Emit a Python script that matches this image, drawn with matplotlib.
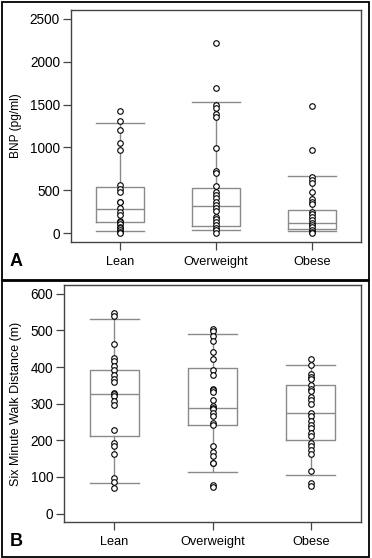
import matplotlib
matplotlib.use("Agg")
import matplotlib.pyplot as plt
from matplotlib.patches import Rectangle

plt.rcParams['font.family'] = ['Liberation Sans', 'DejaVu Sans']

categories = ["Lean", "Overweight", "Obese"]

# Panel A: BNP (pg/ml)
bnp_lean = [1420, 1310, 1200, 1050, 970, 560, 520, 480, 370, 360, 290, 250,
            220, 150, 130, 110, 80, 60, 40, 20, 10]
bnp_overweight = [2216, 1687, 1493, 1458, 1388, 1353, 991, 731, 700, 552, 486,
                  447, 408, 369, 330, 292, 264, 187, 163, 136, 97, 58, 39, 8]
bnp_obese = [1477, 972, 661, 622, 591, 482, 397, 369, 342, 249, 222, 194, 156,
             124, 97, 70, 39, 16, 2]
bnp_q1 = [132, 86, 54]
bnp_med = [284, 315, 121]
bnp_q3 = [544, 533, 268]
bnp_wlo = [27, 39, 27]
bnp_whi = [1283, 1524, 673]

# Panel B: Six Minute Walk Distance (m)
smw_lean = [547, 540, 464, 424, 417, 403, 392, 378, 368, 359, 330, 325, 321,
            307, 296, 229, 192, 183, 162, 96, 87, 71]
smw_overweight = [504, 499, 484, 472, 442, 421, 392, 377, 341, 337, 332, 310,
                  293, 289, 286, 275, 266, 247, 241, 183, 169, 156, 139, 137,
                  78, 73]
smw_obese = [421, 405, 380, 374, 366, 350, 341, 334, 319, 311, 298, 275, 266,
             252, 241, 234, 220, 211, 192, 183, 174, 163, 117, 84, 75]
smw_q1 = [211, 242, 201]
smw_med = [327, 289, 274]
smw_q3 = [391, 398, 350]
smw_wlo = [83, 112, 104]
smw_whi = [531, 490, 405]

W, H = 372, 558
fig = plt.figure(figsize=(W / 100, H / 100), dpi=100)


def px_axes(left, top, right, bottom):
    return fig.add_axes([left / W, 1 - bottom / H, (right - left) / W, (bottom - top) / H])


BOXC = "#8a8a8a"
SPINEC = "#444444"


def draw_panel(ax, groups, q1, med, q3, wlo, whi, ylim, yticks, ylabel, ylabel_size):
    stats = []
    for i in range(len(categories)):
        stats.append(dict(q1=q1[i], med=med[i], q3=q3[i], whislo=wlo[i],
                          whishi=whi[i], fliers=[], label=categories[i]))
    pos = [1, 2, 3]
    ax.bxp(stats, positions=pos, widths=0.5, capwidths=0.5, showfliers=False,
           boxprops=dict(color=BOXC, linewidth=1.0),
           medianprops=dict(color=BOXC, linewidth=1.0),
           whiskerprops=dict(color=BOXC, linewidth=1.0),
           capprops=dict(color=BOXC, linewidth=1.0))
    for p, vals in zip(pos, groups):
        ax.plot([p] * len(vals), vals, linestyle="none", marker="o", markersize=4.0,
                markerfacecolor="white", markeredgecolor="black",
                markeredgewidth=0.8, zorder=3)
    lo, hi = ylim
    pad = 0.04 * (hi - lo)
    ax.set_ylim(lo - pad, hi + pad)
    ax.set_xlim(0.49, 3.51)
    ax.set_yticks(yticks)
    ax.set_xticks(pos)
    ax.set_xticklabels(categories, fontsize=9.2)
    ax.tick_params(axis="y", labelsize=9.8, length=6, width=0.9, color=SPINEC, pad=2)
    ax.tick_params(axis="x", length=6, width=0.9, color=SPINEC, pad=4)
    for s in ax.spines.values():
        s.set_color(SPINEC)
        s.set_linewidth(1.0)
    ax.set_ylabel(ylabel, fontsize=ylabel_size)
    return ax


axA = px_axes(71, 10, 361, 242)
draw_panel(axA, [bnp_lean, bnp_overweight, bnp_obese], bnp_q1, bnp_med, bnp_q3,
           bnp_wlo, bnp_whi, (0, 2500), [0, 500, 1000, 1500, 2000, 2500],
           "BNP (pg/ml)", 8.6)
axA.yaxis.set_label_coords((22 - 71) / (361 - 71), 0.5)

axB = px_axes(64.3, 285, 361, 522.3)
draw_panel(axB, [smw_lean, smw_overweight, smw_obese], smw_q1, smw_med, smw_q3,
           smw_wlo, smw_whi, (0, 600), [0, 100, 200, 300, 400, 500, 600],
           "Six Minute Walk Distance (m)", 9.0)
axB.yaxis.set_label_coords((22 - 64.3) / (361 - 64.3), 0.5)

# panel letters
fig.text(10 / W, 1 - 261 / H, "A", fontsize=13, fontweight="bold", va="center", ha="left")
fig.text(10 / W, 1 - 541 / H, "B", fontsize=13, fontweight="bold", va="center", ha="left")

# outer frames
fig.add_artist(Rectangle((1.5 / W, 1 - 280 / H), (369 - 1.5) / W, (280 - 1.5) / H,
                         transform=fig.transFigure, fill=False, edgecolor="black",
                         linewidth=1.3))
fig.add_artist(Rectangle((1.5 / W, 1 - 556.5 / H), (369 - 1.5) / W, (556.5 - 280.5) / H,
                         transform=fig.transFigure, fill=False, edgecolor="black",
                         linewidth=1.3))

fig.savefig("out.png", dpi=100, facecolor="white")
